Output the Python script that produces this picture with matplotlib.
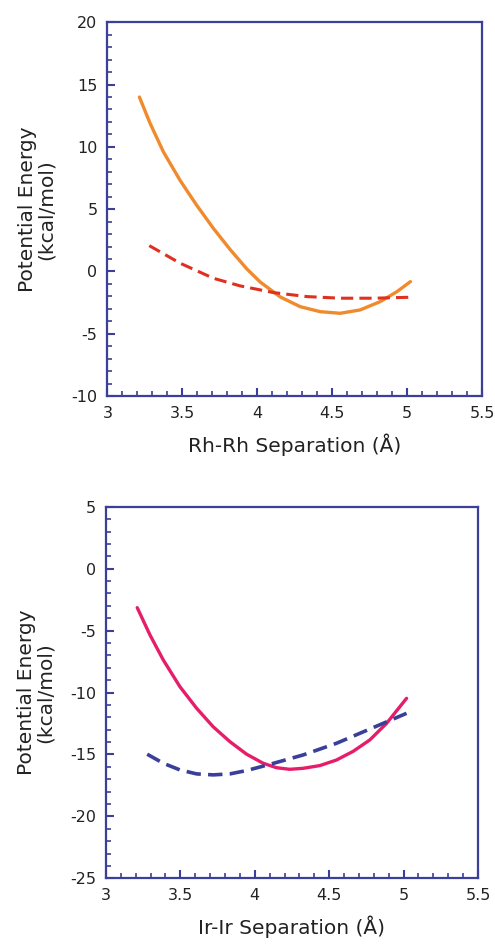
import matplotlib
matplotlib.use("Agg")
import matplotlib.pyplot as plt
from matplotlib.ticker import MultipleLocator

# Top panel: Rh-Rh
rh_solid_x = [3.214, 3.285, 3.374, 3.486, 3.597, 3.708, 3.82, 3.931, 4.02, 4.154, 4.287, 4.42, 4.554, 4.687, 4.821, 4.933, 5.022]
rh_solid_y = [14.0, 11.9, 9.6, 7.3, 5.3, 3.45, 1.75, 0.2, -0.85, -2.05, -2.83, -3.23, -3.36, -3.09, -2.42, -1.62, -0.82]
rh_dash_x = [3.28, 3.486, 3.708, 3.886, 3.998, 4.109, 4.332, 4.554, 4.777, 5.03]
rh_dash_y = [2.07, 0.66, -0.55, -1.16, -1.43, -1.70, -2.02, -2.15, -2.15, -2.07]

# Bottom panel: Ir-Ir
ir_solid_x = [3.21, 3.296, 3.385, 3.497, 3.609, 3.72, 3.833, 3.945, 4.056, 4.146, 4.235, 4.325, 4.437, 4.549, 4.661, 4.773, 4.885, 5.02]
ir_solid_y = [-3.15, -5.36, -7.37, -9.53, -11.27, -12.76, -13.97, -14.98, -15.71, -16.07, -16.2, -16.12, -15.9, -15.45, -14.75, -13.83, -12.5, -10.47]
ir_dash_x = [3.277, 3.385, 3.497, 3.609, 3.72, 3.833, 3.945, 4.101, 4.325, 4.549, 4.773, 5.02]
ir_dash_y = [-14.98, -15.71, -16.25, -16.57, -16.65, -16.57, -16.3, -15.8, -15.04, -14.1, -12.95, -11.68]

x_ticks = [3, 3.5, 4, 4.5, 5, 5.5]
x_ticklabels = ["3", "3.5", "4", "4.5", "5", "5.5"]

frame = "#3c3f97"
fig = plt.figure(figsize=(4.95, 9.44), dpi=100)

def style(ax, ylim, yticks, xlabel):
    ax.set_xlim(3, 5.5)
    ax.set_ylim(*ylim)
    ax.set_xticks(x_ticks)
    ax.set_xticklabels(x_ticklabels)
    ax.set_yticks(yticks)
    ax.set_yticklabels([str(v) for v in yticks])
    ax.xaxis.set_minor_locator(MultipleLocator(0.1))
    ax.yaxis.set_minor_locator(MultipleLocator(1))
    for s in ax.spines.values():
        s.set_color(frame)
        s.set_linewidth(1.6)
    ax.tick_params(which="both", direction="in", color=frame, top=False, right=False,
                   labelsize=11.5, labelcolor="#222222")
    ax.tick_params(which="major", length=6, width=1.5, pad=7)
    ax.tick_params(which="minor", length=3.5, width=1.2)
    ax.set_xlabel(xlabel, fontsize=14.5, labelpad=9, color="#222222")
    ax.set_ylabel("Potential Energy\n(kcal/mol)", fontsize=14.5, labelpad=11, color="#222222",
                  linespacing=1.0)

ax1 = fig.add_axes([0.2168, 0.5805, 0.757, 0.3959])
ax1.plot(rh_solid_x, rh_solid_y, color="#f08a2c", lw=2.4, solid_capstyle="round", solid_joinstyle="round")
ax1.plot(rh_dash_x, rh_dash_y, color="#e0301f", lw=2.2, dashes=(4, 2))
style(ax1, (-10, 20), [-10, -5, 0, 5, 10, 15, 20], "Rh-Rh Separation (Å)")

ax2 = fig.add_axes([0.2141, 0.0696, 0.7515, 0.3936])
ax2.plot(ir_solid_x, ir_solid_y, color="#e61e6a", lw=2.4, solid_capstyle="round", solid_joinstyle="round")
ax2.plot(ir_dash_x, ir_dash_y, color="#3a3f9a", lw=2.6, dashes=(4, 2))
style(ax2, (-25, 5), [-25, -20, -15, -10, -5, 0, 5], "Ir-Ir Separation (Å)")

fig.savefig("out.png", dpi=100)
